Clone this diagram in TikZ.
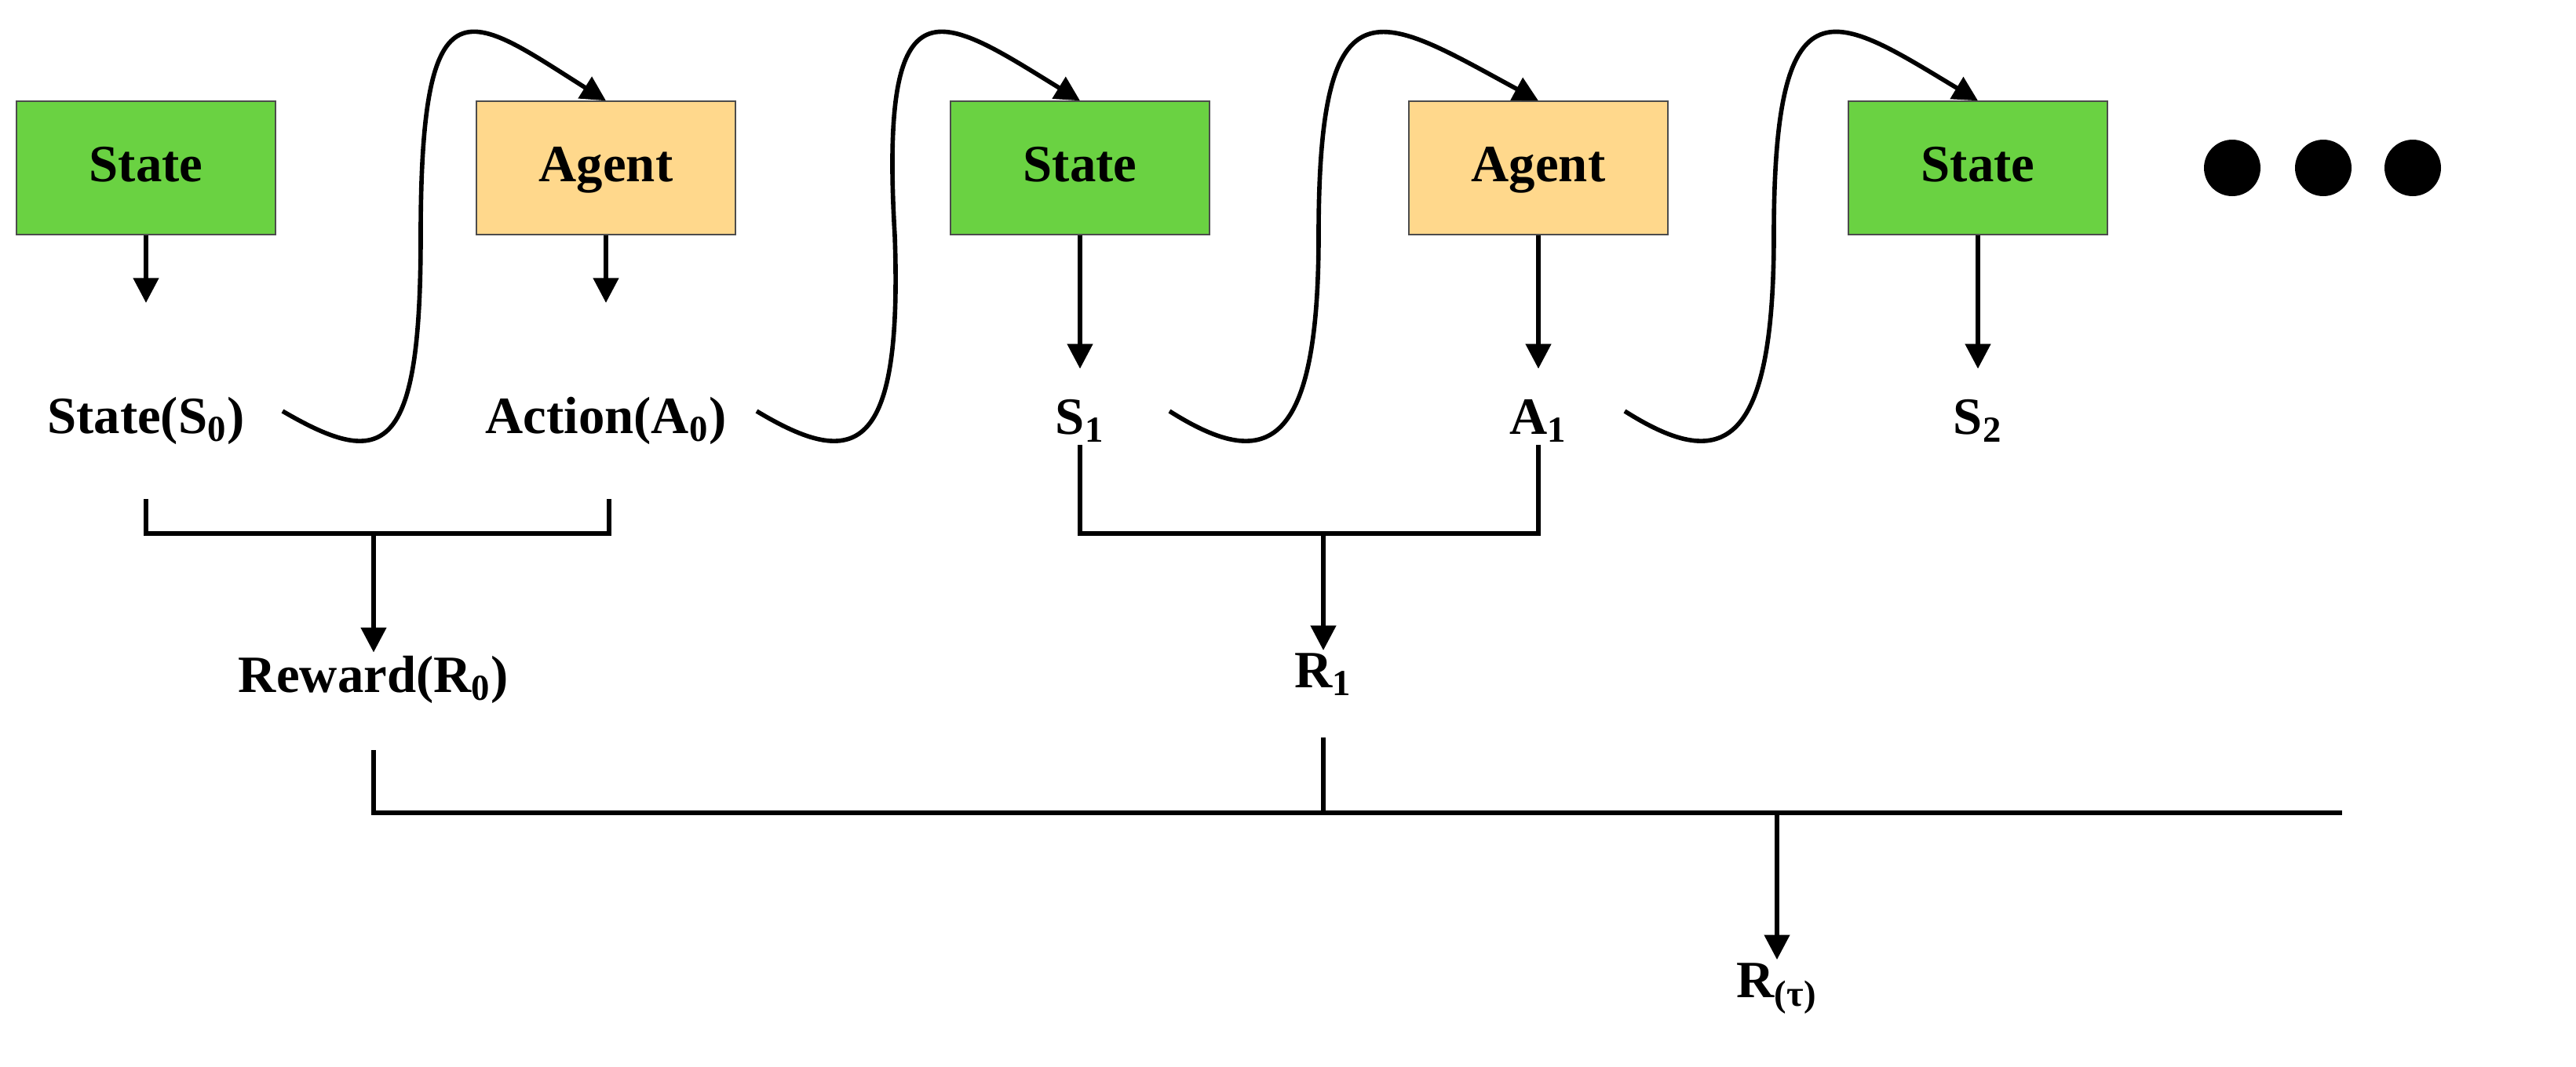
\documentclass[tikz,border=0pt]{standalone}
\usepackage{fontspec}
\setmainfont{Liberation Serif}
\usetikzlibrary{arrows.meta}
\definecolor{stategreen}{RGB}{106,210,66}
\definecolor{agentorange}{RGB}{255,216,140}
\tikzset{
  box/.style={draw=black!70,minimum width=3.3cm,minimum height=1.7cm,text height=14pt,text depth=4pt,font=\bfseries\fontsize{19}{22}\selectfont},
  state/.style={box,fill=stategreen},
  agent/.style={box,fill=agentorange},
  lbl/.style={font=\bfseries\fontsize{19}{22}\selectfont,inner sep=1pt},
  arr/.style={line width=1.6pt,-{Triangle[length=9pt,width=9pt]}},
  ln/.style={line width=1.6pt}
}
\begin{document}
\begin{tikzpicture}[x=0.02cm,y=-0.02cm]
  \useasboundingbox (0,0) rectangle (1641,680);
  % boxes
  \node[state] (st0) at (93,107) {State};
  \node[agent] (ag0) at (386,107) {Agent};
  \node[state] (st1) at (688,107) {State};
  \node[agent] (ag1) at (980,107) {Agent};
  \node[state] (st2) at (1260,107) {State};
  \foreach \x in {1422,1480,1537}
    \fill (\x,107) circle (0.36cm);

  % labels
  \node[lbl] (s0) at (93,268) {State(S\textsubscript{0})};
  \node[lbl] (a0) at (386,268) {Action(A\textsubscript{0})};
  \node[lbl] (s1) at (688,268) {S\textsubscript{1}};
  \node[lbl] (a1) at (980,268) {A\textsubscript{1}};
  \node[lbl] (s2) at (1260,268) {S\textsubscript{2}};
  \node[lbl] (r0) at (238,433) {Reward(R\textsubscript{0})};
  \node[lbl] (r1) at (843,430) {R\textsubscript{1}};
  \node[lbl] (rt) at (1132,630) {R\textsubscript{(τ)}};

  % down arrows
  \draw[arr] (st0.south) -- (93,193);
  \draw[arr] (ag0.south) -- (386,193);
  \draw[arr] (st1.south) -- (688,235);
  \draw[arr] (ag1.south) -- (980,235);
  \draw[arr] (st2.south) -- (1260,235);

  % transition curves
  \coordinate (c0) at (180,262);
  \coordinate (c1) at (482,262);
  \coordinate (c2) at (745,262);
  \coordinate (c3) at (1035,262);
  \draw[arr] (c0) .. controls (245,300) and (268,290) .. (268,150)
    .. controls (268,-20) and (300,10) .. (ag0.north);
  \draw[arr] (c1) .. controls (545,300) and (575,290) .. (570,150)
    .. controls (560,-20) and (600,10) .. (st1.north);
  \draw[arr] (c2) .. controls (805,300) and (840,290) .. (840,150)
    .. controls (840,-20) and (880,10) .. (ag1.north);
  \draw[arr] (c3) .. controls (1095,300) and (1130,290) .. (1130,150)
    .. controls (1130,-20) and (1170,10) .. (st2.north);

  % reward brackets
  \draw[ln] (93,318) -- (93,340) -- (388,340) -- (388,318);
  \draw[arr] (238,340) -- (r0.north);
  \draw[ln] (s1.south) -- (688,340) -- (980,340) -- (a1.south);
  \draw[arr] (843,340) -- (r1.north);

  % return
  \draw[ln] (238,478) -- (238,518) -- (1492,518);
  \draw[ln] (843,470) -- (843,518);
  \draw[arr] (1132,518) -- (rt.north);
\end{tikzpicture}
\end{document}
